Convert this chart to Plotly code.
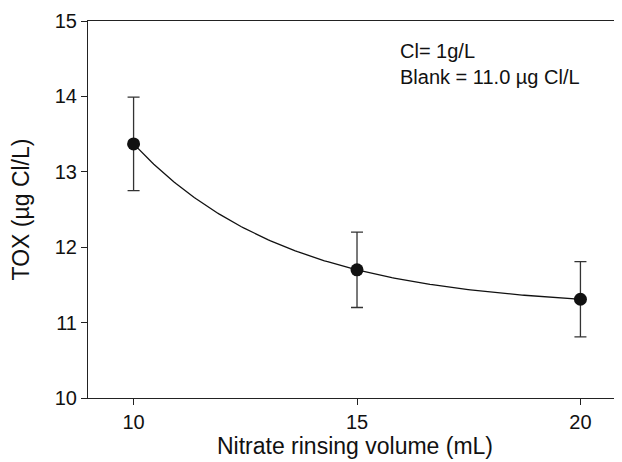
import numpy as np
import plotly.graph_objects as go

# Data
volume_ml = [10, 15, 20]
tox_ug = [13.37, 11.70, 11.31]
tox_err = [0.62, 0.50, 0.50]
x_ticks = [10, 15, 20]
y_ticks = [10, 11, 12, 13, 14, 15]

# Exponential-decay fit curve y = a + b*exp(-k x) through the data points
x = np.array(volume_ml, dtype=float)
y = np.array(tox_ug, dtype=float)
ratio = (y[1] - y[2]) / (y[0] - y[1])
k = -np.log(ratio) / (x[1] - x[0])
b = (y[0] - y[1]) / (np.exp(-k * x[0]) - np.exp(-k * x[1]))
a = y[0] - b * np.exp(-k * x[0])
xf = np.linspace(x.min(), x.max(), 200)
yf = a + b * np.exp(-k * xf)

fig = go.Figure()
fig.add_trace(go.Scatter(x=xf, y=yf, mode="lines",
                         line=dict(color="#111111", width=1.3),
                         hoverinfo="skip", showlegend=False))
fig.add_trace(go.Scatter(
    x=volume_ml, y=tox_ug, mode="markers",
    marker=dict(size=13, color="#111111"),
    error_y=dict(type="data", array=tox_err, visible=True,
                 color="#333333", thickness=1.3, width=6),
    showlegend=False))

font_family = "Liberation Sans, Arial, sans-serif"
fig.update_layout(
    width=614, height=454,
    margin=dict(l=80, r=0, t=13, b=64),
    paper_bgcolor="white", plot_bgcolor="white",
    font=dict(family=font_family, color="#111111"),
    xaxis=dict(range=[8.98, 20.93], tickvals=x_ticks, ticks="outside", ticklen=6,
               tickcolor="#222222", showline=True, linecolor="#222222", linewidth=1.2,
               mirror=True, showgrid=False, zeroline=False, automargin=False,
               tickfont=dict(size=20),
               title=dict(text="Nitrate rinsing volume (mL)", font=dict(size=23), standoff=5)),
    yaxis=dict(range=[10, 15], tickvals=y_ticks, ticks="outside", ticklen=6,
               tickcolor="#222222", showline=True, linecolor="#222222", linewidth=1.2,
               showgrid=False, zeroline=False, automargin=False,
               tickfont=dict(size=20),
               title=dict(text="TOX (µg Cl/L)", font=dict(size=23), standoff=24)),
    annotations=[dict(xref="paper", yref="paper", x=0.58, y=0.885,
                      xanchor="left", yanchor="middle", align="left", showarrow=False,
                      text="Cl= 1g/L<br>Blank = 11.0 µg Cl/L",
                      font=dict(size=20, family=font_family, color="#111111"))],
)

fig.write_html("out.html")
